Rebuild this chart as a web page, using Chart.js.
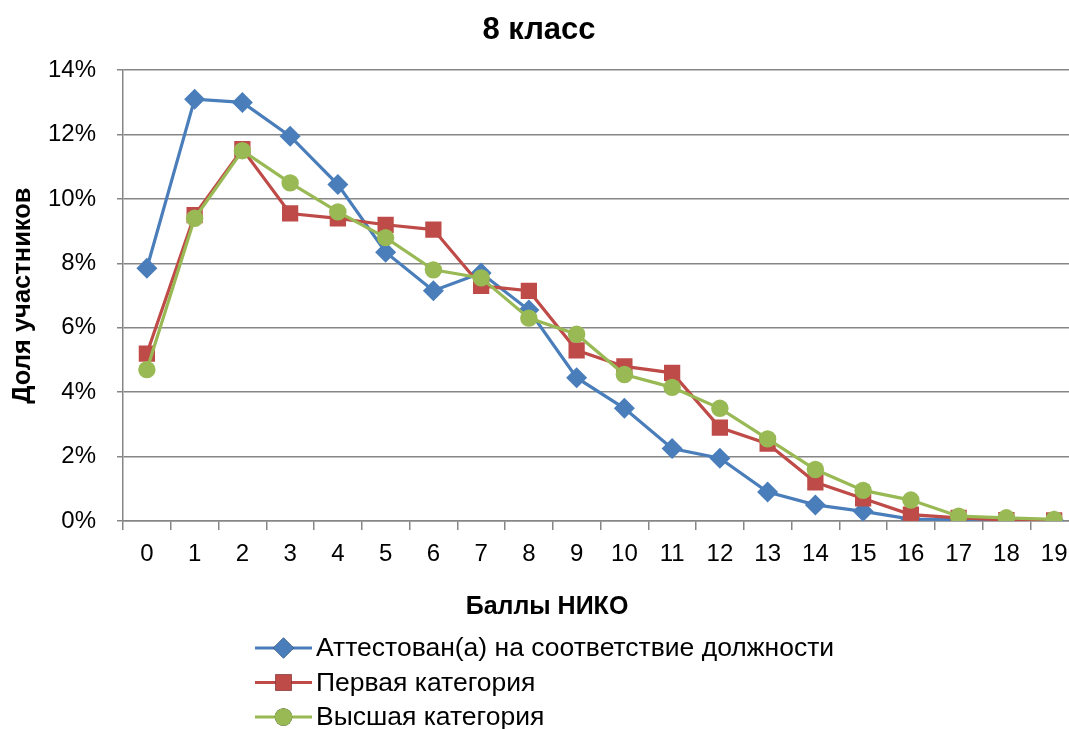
<!DOCTYPE html>
<html>
<head>
<meta charset="utf-8">
<script src="https://cdn.jsdelivr.net/npm/chart.js@4/dist/chart.umd.min.js"></script>
<style>
  html, body { margin: 0; padding: 0; background: #fff; overflow: hidden; }
  #wrap { width: 1078px; height: 729px; }
</style>
</head>
<body>
<div id="wrap"><canvas id="chart" width="1078" height="729"></canvas></div>
<script>
const scores = ["0", "1", "2", "3", "4", "5", "6", "7", "8", "9", "10", "11", "12", "13", "14", "15", "16", "17", "18", "19"];
const attested = [7.85, 13.1, 13.0, 11.95, 10.45, 8.35, 7.15, 7.7, 6.55, 4.45, 3.5, 2.25, 1.95, 0.9, 0.5, 0.3, 0.06, 0.05, 0.03, 0.0];
const firstCat = [5.2, 9.5, 11.55, 9.55, 9.4, 9.2, 9.05, 7.3, 7.15, 5.3, 4.8, 4.6, 2.9, 2.4, 1.2, 0.7, 0.2, 0.1, 0.03, 0.02];
const highestCat = [4.7, 9.4, 11.5, 10.5, 9.6, 8.8, 7.8, 7.55, 6.3, 5.8, 4.55, 4.15, 3.5, 2.55, 1.6, 0.95, 0.65, 0.15, 0.1, 0.05];
const seriesNames = ["Аттестован(а) на соответствие должности", "Первая категория", "Высшая категория"];
const xTitle = "Баллы НИКО";

const FONT = "'Liberation Sans', Arial, sans-serif";
const GRID = "#868686";

// x axis title (sits left of the plot centre in the original) and a
// legend stacked one item per row
const extras = {
    id: "extras",
    afterDraw(chart) {
        const ctx = chart.ctx;
        ctx.save();
        ctx.fillStyle = "#000";
        ctx.font = "bold 25px " + FONT;
        ctx.textAlign = "center";
        ctx.textBaseline = "middle";
        ctx.fillText(xTitle, 547, 607);
        ctx.restore();

        const x0 = 255, y0 = 648, rowH = 34.5;
        chart.data.datasets.forEach((ds, i) => {
            const y = y0 + i * rowH;
            ctx.save();
            ctx.strokeStyle = ds.borderColor;
            ctx.lineWidth = 3;
            ctx.beginPath();
            ctx.moveTo(x0, y);
            ctx.lineTo(x0 + 57, y);
            ctx.stroke();
            Chart.helpers.drawPoint(ctx, {
                pointStyle: ds.pointStyle,
                radius: ds.pointRadius,
                rotation: 0,
                borderWidth: 0
            }, x0 + 28.5, y);
            ctx.fillStyle = ds.backgroundColor;
            ctx.fill();
            ctx.fillStyle = "#000";
            ctx.font = "26.5px " + FONT;
            ctx.textAlign = "left";
            ctx.textBaseline = "middle";
            ctx.fillText(ds.label, x0 + 61, y + 1);
            ctx.restore();
        });
    }
};

new Chart(document.getElementById("chart"), {
    type: "line",
    data: {
        labels: scores,
        datasets: [
            {
                label: seriesNames[0],
                data: attested,
                order: 2,
                borderColor: "#4A7EBB",
                backgroundColor: "#4A7EBB",
                borderWidth: 3.2,
                pointStyle: "rectRot",
                pointRadius: 10.5,
                pointHoverRadius: 10.5,
                pointBorderWidth: 0,
            },
            {
                label: seriesNames[1],
                data: firstCat,
                order: 1,
                borderColor: "#BE4B48",
                backgroundColor: "#BE4B48",
                borderWidth: 3.2,
                pointStyle: "rect",
                pointRadius: 11.5,
                pointHoverRadius: 11.5,
                pointBorderWidth: 0,
            },
            {
                label: seriesNames[2],
                data: highestCat,
                order: 0,
                borderColor: "#98B954",
                backgroundColor: "#98B954",
                borderWidth: 3.2,
                pointStyle: "circle",
                pointRadius: 8.7,
                pointHoverRadius: 8.7,
                pointBorderWidth: 0,
            },
        ],
    },
    options: {
        responsive: false,
        animation: false,
        layout: {
            autoPadding: false,
            padding: { left: 0, right: 0, top: 0, bottom: 103 },
        },
        scales: {
            x: {
                offset: true,
                grid: {
                    display: true,
                    drawOnChartArea: false,
                    offset: true,
                    color: GRID,
                    lineWidth: 1.5,
                    tickLength: 9,
                },
                border: { color: GRID, width: 1.5 },
                ticks: {
                    color: "#000",
                    font: { family: FONT, size: 24 },
                    padding: 10,
                    maxRotation: 0,
                    autoSkip: false,
                },
                afterFit: (s) => {
                    s.height = 105;
                    s.paddingLeft = 0;
                    s.paddingRight = 0;
                },
            },
            y: {
                min: 0,
                max: 14,
                ticks: {
                    stepSize: 2,
                    color: "#000",
                    font: { family: FONT, size: 24 },
                    padding: 21,
                    callback: (v) => v + "%",
                },
                grid: {
                    color: GRID,
                    lineWidth: 1.5,
                    tickLength: 6,
                },
                border: { color: GRID, width: 1.5 },
                title: {
                    display: true,
                    text: "Доля участников",
                    color: "#000",
                    font: { family: FONT, size: 25.5, weight: "bold" },
                    padding: { top: 8, bottom: 0 },
                },
                afterFit: (s) => { s.width = 123; },
            },
        },
        plugins: {
            legend: { display: false },
            tooltip: { enabled: false },
            title: {
                display: true,
                text: "8 класс",
                color: "#000",
                font: { family: FONT, size: 31, weight: "bold" },
                padding: { top: 12, bottom: 21 },
            },
        },
    },
    plugins: [extras],
});
</script>
</body>
</html>
